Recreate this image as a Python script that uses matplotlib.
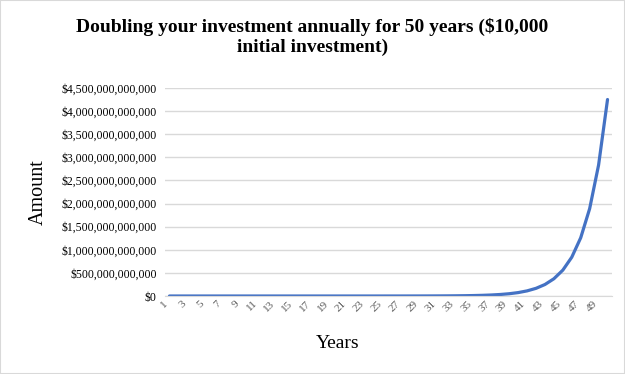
import matplotlib
matplotlib.use("Agg")
import matplotlib.pyplot as plt
from matplotlib.ticker import FuncFormatter, MultipleLocator
from matplotlib.patches import Rectangle

years = list(range(1, 51))
amounts = [10000, 15000, 22500, 33750, 50625, 75938, 113906, 170859, 256289, 384434,
           576650, 864976, 1297463, 1946195, 2919293, 4378939, 6568408, 9852613,
           14778919, 22168378, 33252567, 49878851, 74818276, 112227415, 168341122,
           252511683, 378767524, 568151287, 852226930, 1278340395, 1917510592,
           2876265888, 4314398833, 6471598249, 9707397374, 14561096060, 21841644091,
           32762466136, 49143699204, 73715548806, 110573323210, 165859984815,
           248789977222, 373184965833, 559777448750, 839666173125, 1259499259688,
           1889248889532, 2833873334298, 4250810001447]
tick_years = list(range(1, 51, 2))
title = "Doubling your investment annually for 50 years ($10,000\ninitial investment)"

plt.rcParams['font.family'] = ['Liberation Serif', 'DejaVu Serif']

fig = plt.figure(figsize=(6.25, 3.74), dpi=100)
fig.patches.append(Rectangle((0, 0), 1, 1, transform=fig.transFigure,
                             fill=False, edgecolor='#d9d9d9', linewidth=1.5))
ax = fig.add_axes([165/625, 1-296/374, 447/625, 208/374])

ax.plot(years, amounts, color='#4472C4', linewidth=2.3, solid_capstyle='round')
ax.set_xlim(0.5, 50.5)
ax.set_ylim(0, 4.5e12)
ax.yaxis.set_major_locator(MultipleLocator(5e11))
ax.yaxis.set_major_formatter(FuncFormatter(lambda v, p: "${:,.0f}".format(v)))
ax.set_xticks(tick_years)
ax.set_xticklabels([str(y) for y in tick_years], rotation=45, ha='right', va='top',
                   fontsize=8, color='#595959')
ax.tick_params(axis='x', length=0, pad=2)
ax.tick_params(axis='y', length=0, pad=6, labelsize=8.5, labelcolor='#000000')
ax.grid(axis='y', color='#d9d9d9', linewidth=1)
ax.set_axisbelow(True)
for s in ['top', 'right', 'left']:
    ax.spines[s].set_visible(False)
ax.spines['bottom'].set_color('#d9d9d9')

fig.text(0.5, 1-18/374, title, ha='center', va='top', fontsize=14, fontweight='bold',
         linespacing=1.22)
ax.set_ylabel("Amount", fontsize=14.5, labelpad=10)
fig.text(338/625, 1-343/374, "Years", ha='center', va='center', fontsize=14)

fig.savefig("out.png", dpi=100)
